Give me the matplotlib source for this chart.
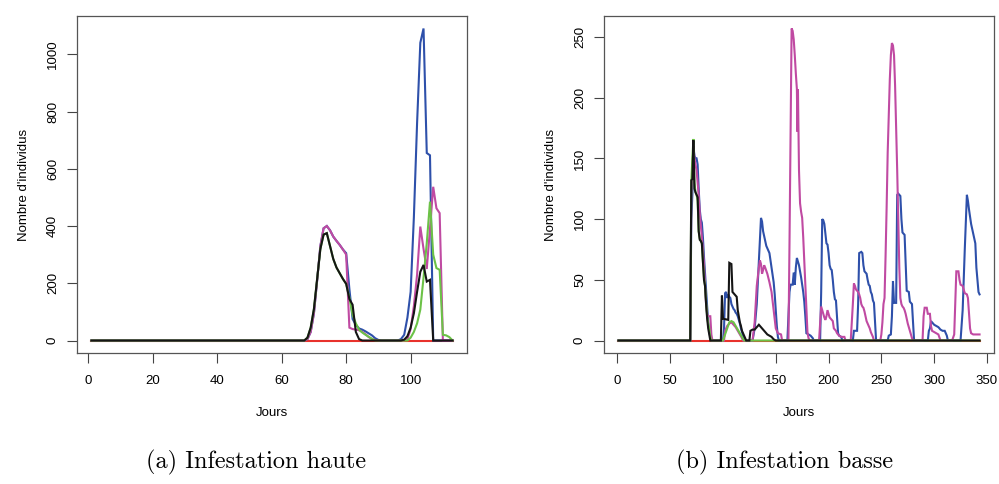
import numpy as np
import matplotlib
matplotlib.use("Agg")
import matplotlib.pyplot as plt

plt.rcParams["font.family"] = ["Liberation Sans", "DejaVu Sans"]

# (jour, nombre d'individus)
# (a) Infestation haute
red_a = [(1, 0), (113, 0)]
blue_a = [(1, 0), (67, 0), (68, 5), (69, 30), (70, 95), (71, 210), (72, 330), (73, 392), (74, 400),
          (75, 385), (76, 363), (77, 348), (78, 334), (79, 318), (80, 305), (81, 180), (82, 75),
          (83, 55), (84, 42), (85, 38), (86, 32), (87, 25), (88, 18), (89, 8), (90, 2), (91, 0),
          (96, 0), (97, 5), (98, 20), (99, 80), (100, 170), (101, 430), (102, 760), (103, 1040),
          (104, 1090), (105, 655), (106, 647), (107, 0), (113, 0)]
magenta_a = [(1, 0), (67, 0), (68, 5), (69, 30), (70, 95), (71, 210), (72, 330), (73, 392), (74, 400),
             (75, 385), (76, 363), (77, 348), (78, 334), (79, 318), (80, 300), (81, 45), (82, 40),
             (83, 38), (84, 36), (85, 30), (86, 22), (87, 12), (88, 5), (89, 2), (90, 0),
             (98, 0), (99, 5), (100, 40), (101, 120), (102, 230), (103, 398), (104, 320), (105, 250),
             (106, 390), (107, 537), (108, 462), (109, 445), (110, 0), (113, 0)]
green_a = [(1, 0), (67, 0), (68, 10), (69, 45), (70, 110), (71, 215), (72, 320), (73, 370), (74, 375),
           (75, 330), (76, 285), (77, 255), (78, 235), (79, 215), (80, 198), (81, 150), (82, 90),
           (83, 60), (84, 38), (85, 28), (86, 20), (87, 13), (88, 6), (89, 0),
           (99, 0), (100, 10), (101, 30), (102, 60), (103, 108), (104, 220), (105, 340), (106, 485),
           (107, 300), (108, 253), (109, 247), (110, 20), (111, 18), (112, 12), (113, 0)]
black_a = [(1, 0), (67, 0), (68, 10), (69, 45), (70, 110), (71, 215), (72, 320), (73, 370), (74, 375),
           (75, 330), (76, 285), (77, 255), (78, 235), (79, 215), (80, 198), (81, 145), (82, 125),
           (83, 30), (84, 5), (85, 0),
           (97, 0), (98, 3), (99, 15), (100, 45), (101, 95), (102, 170), (103, 240), (104, 264),
           (105, 206), (106, 212), (107, 0), (113, 0)]

# (b) Infestation basse
red_b = [(1, 0), (343, 0)]
blue_b = [(1, 0), (69, 0), (70, 100), (71, 120), (72, 160), (73, 152), (74, 150), (75, 150), (76, 145),
          (77, 125), (78, 108), (79, 100), (80, 97), (81, 85), (82, 69), (83, 55), (84, 42), (85, 28),
          (86, 15), (87, 7), (88, 3), (89, 0),
          (100, 0), (101, 10), (102, 39), (103, 40), (104, 35), (105, 38), (106, 36), (107, 35),
          (108, 30), (109, 28), (110, 26), (111, 25), (112, 23), (113, 22), (114, 20), (115, 17),
          (116, 14), (117, 10), (118, 7), (119, 4), (120, 2), (121, 0),
          (128, 0), (130, 10), (132, 30), (134, 65), (136, 101), (137, 98), (138, 90), (140, 82),
          (141, 78), (143, 74), (144, 72), (146, 60), (148, 48), (149, 38), (150, 25), (151, 12),
          (152, 3), (153, 0),
          (161, 0), (163, 40), (164, 46), (166, 46), (167, 56), (168, 46), (169, 60), (170, 68),
          (171, 65), (172, 62), (173, 57), (174, 52), (175, 46), (176, 40), (177, 32), (178, 20),
          (179, 6), (181, 5), (183, 4), (185, 2), (186, 0),
          (192, 0), (193, 40), (194, 100), (195, 99), (196, 96), (197, 88), (198, 80), (199, 79),
          (200, 72), (201, 62), (202, 59), (203, 58), (204, 50), (205, 40), (206, 34), (207, 33),
          (208, 20), (209, 6), (210, 4), (212, 3), (213, 0),
          (223, 0), (224, 8), (227, 8), (228, 30), (229, 72), (231, 73), (232, 72), (233, 62),
          (234, 57), (236, 55), (237, 50), (238, 46), (239, 45), (240, 40), (241, 38), (242, 33),
          (243, 31), (244, 15), (245, 0),
          (256, 0), (257, 4), (259, 5), (260, 20), (261, 49), (262, 31), (264, 31), (265, 120),
          (266, 121), (267, 120), (268, 119), (269, 100), (270, 89), (271, 88), (272, 87), (273, 65),
          (274, 41), (276, 40), (277, 32), (279, 30), (280, 15), (281, 0),
          (294, 0), (295, 8), (296, 10), (297, 16), (298, 15), (300, 13), (302, 12), (304, 11),
          (306, 9), (308, 8), (310, 8), (312, 4), (313, 0),
          (325, 0), (327, 25), (329, 75), (331, 120), (332, 115), (333, 108), (334, 102), (335, 96),
          (336, 92), (337, 88), (338, 84), (339, 80), (340, 60), (342, 40), (343, 38)]
magenta_b = [(1, 0), (69, 0), (70, 120), (71, 140), (72, 160), (73, 150), (74, 145), (75, 140),
             (76, 130), (77, 120), (78, 105), (79, 95), (80, 85), (81, 75), (82, 62), (83, 45),
             (84, 30), (85, 22), (86, 20), (88, 20), (89, 5), (90, 0),
             (101, 0), (102, 8), (104, 12), (106, 14), (108, 15), (110, 13), (112, 11), (114, 8),
             (116, 5), (118, 2), (119, 0),
             (128, 0), (130, 15), (132, 45), (134, 60), (135, 66), (136, 63), (137, 55), (138, 58),
             (139, 62), (140, 60), (142, 55), (144, 48), (146, 40), (148, 25), (150, 10), (152, 6),
             (155, 5), (156, 0),
             (162, 0), (163, 80), (164, 170), (165, 257), (166, 255), (167, 248), (168, 235),
             (169, 220), (170, 207), (170.5, 172), (171, 207), (171.5, 172), (172, 140), (173, 113),
             (174, 106), (175, 101), (176, 85), (177, 65), (178, 45), (179, 25), (180, 7), (181, 2),
             (182, 0),
             (191, 0), (193, 28), (194, 25), (195, 22), (196, 19), (197, 17), (198, 20), (199, 25),
             (200, 22), (201, 19), (202, 18), (203, 17), (204, 16), (205, 10), (206, 9), (207, 8),
             (208, 6), (210, 4), (212, 3), (215, 3), (216, 0),
             (221, 0), (222, 15), (223, 30), (224, 47), (225, 45), (226, 42), (227, 41), (228, 40),
             (229, 38), (230, 35), (231, 30), (232, 28), (233, 27), (234, 24), (235, 20), (236, 16),
             (237, 14), (238, 12), (239, 10), (240, 7), (241, 5), (242, 3), (243, 0),
             (249, 0), (250, 5), (251, 15), (252, 30), (253, 35), (254, 70), (255, 110), (256, 155),
             (257, 185), (258, 215), (259, 235), (260, 245), (261, 243), (262, 235), (263, 210),
             (264, 175), (265, 140), (266, 100), (267, 60), (268, 35), (269, 30), (270, 28),
             (271, 27), (272, 25), (273, 22), (274, 18), (275, 14), (276, 11), (277, 8), (278, 5),
             (279, 2), (280, 0),
             (289, 0), (290, 20), (291, 27), (293, 27), (294, 22), (296, 22), (297, 12), (298, 8),
             (300, 7), (302, 6), (304, 5), (306, 0),
             (317, 0), (319, 5), (320, 30), (321, 57), (323, 57), (324, 50), (325, 46), (327, 45),
             (328, 42), (329, 39), (331, 38), (332, 35), (333, 23), (334, 10), (335, 6), (337, 5),
             (343, 5)]
green_b = [(1, 0), (69, 0), (70, 130), (71, 150), (72, 166), (73, 130), (74, 122), (75, 120),
           (76, 115), (77, 90), (78, 84), (79, 82), (80, 80), (81, 65), (82, 52), (83, 45), (84, 32),
           (85, 20), (86, 14), (87, 10), (88, 3), (89, 0),
           (100, 0), (102, 5), (104, 10), (106, 15), (108, 16), (110, 15), (112, 12), (114, 9),
           (116, 6), (118, 3), (120, 0), (343, 0)]
black_b = [(1, 0), (69, 0), (70, 132), (71, 133), (72, 165), (73, 125), (74, 122), (75, 120),
           (76, 118), (77, 90), (78, 83), (79, 82), (80, 80), (81, 65), (82, 50), (83, 45), (84, 30),
           (85, 18), (86, 10), (87, 5), (88, 0),
           (98, 0), (99, 37), (100, 18), (105, 17), (106, 64), (108, 63), (109, 40), (113, 36),
           (114, 25), (115, 20), (116, 15), (117, 12), (118, 8), (119, 6), (120, 4), (121, 2),
           (122, 0),
           (125, 0), (126, 8), (128, 9), (130, 9), (132, 11), (134, 13), (136, 11), (138, 9),
           (140, 7), (142, 5), (144, 4), (146, 3), (148, 1), (150, 0), (343, 0)]

series_colors = ["#E8322C", "#2E50AA", "#C04AA2", "#6CC247", "#151515"]
captions = ["(a) Infestation haute", "(b) Infestation basse"]
xticks_a = [0, 20, 40, 60, 80, 100]
yticks_a = [0, 200, 400, 600, 800, 1000]
xticks_b = [0, 50, 100, 150, 200, 250, 300, 350]
yticks_b = [0, 50, 100, 150, 200, 250]


def r_lim(lo, hi):
    # R default: data range padded by 4% on each side
    pad = 0.04 * (hi - lo)
    return lo - pad, hi + pad


def draw_panel(ax, series, xticks, yticks):
    xmin, xmax, ymax = 1e9, -1e9, 0
    for pts, col in zip(series, series_colors):
        d = np.array(pts, dtype=float)
        ax.plot(d[:, 0], d[:, 1], color=col, lw=1.5, solid_joinstyle="miter")
        xmin, xmax = min(xmin, d[:, 0].min()), max(xmax, d[:, 0].max())
        ymax = max(ymax, d[:, 1].max())
    ax.set_xlim(*r_lim(xmin, xmax))
    ax.set_ylim(*r_lim(0, ymax))
    ax.set_xticks(xticks)
    ax.set_yticks(yticks)
    ax.set_yticklabels([str(t) for t in yticks], rotation=90, va="center")
    ax.tick_params(length=7, width=0.8, color="#444444", labelsize=9.5)
    ax.tick_params(axis="x", pad=9)
    ax.tick_params(axis="y", pad=6)
    for s in ax.spines.values():
        s.set_color("#555555")
        s.set_linewidth(0.9)
    ax.set_xlabel("Jours", fontsize=9.5, labelpad=14)
    ax.set_ylabel("Nombre d'individus", fontsize=9.5, labelpad=12)


fig = plt.figure(figsize=(9.99, 4.84), dpi=100)
ax1 = fig.add_axes([77 / 999, 1 - 353 / 484, 390 / 999, 337 / 484])
ax2 = fig.add_axes([604 / 999, 1 - 353 / 484, 390 / 999, 337 / 484])

draw_panel(ax1, [red_a, blue_a, magenta_a, green_a, black_a], xticks_a, yticks_a)
draw_panel(ax2, [red_b, blue_b, magenta_b, green_b, black_b], xticks_b, yticks_b)

fig.text(256 / 999, 1 - 462 / 484, captions[0], family="cmr10", fontsize=17.5, ha="center", va="center")
fig.text(785 / 999, 1 - 462 / 484, captions[1], family="cmr10", fontsize=17.5, ha="center", va="center")

fig.savefig("out.png", dpi=100)
